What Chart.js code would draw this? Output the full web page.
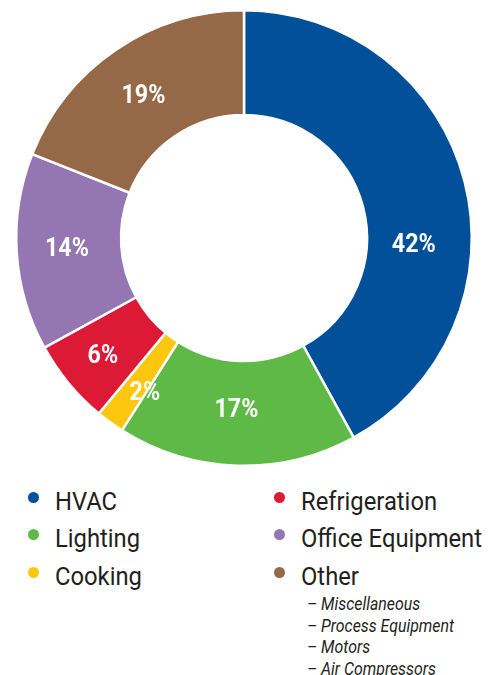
<!DOCTYPE html>
<html>
<head>
<meta charset="utf-8">
<script src="https://cdn.jsdelivr.net/npm/chart.js@4/dist/chart.umd.min.js"></script>
<style>
  html, body { margin: 0; padding: 0; background: #fff; }
  body { width: 488px; height: 675px; position: relative; overflow: hidden;
         font-family: "Roboto", "Liberation Sans", sans-serif; color: #231f20; }
  #wrap { position: absolute; left: 0; top: 0; width: 488px; height: 476px; }
  #legend { position: absolute; left: 0; top: 480px; width: 488px; height: 195px; }
  .item { position: absolute; font-size: 26.5px; line-height: 30px; white-space: nowrap; transform-origin: 0 0; }
  .dot { position: absolute; width: 11px; height: 11px; border-radius: 50%; }
  .sub { position: absolute; font-size: 18px; font-style: italic; line-height: 20px; white-space: nowrap; color: #231f20; transform-origin: 0 0; }
</style>
</head>
<body>
<div id="wrap"><canvas id="c" width="488" height="476"></canvas></div>
<div id="legend"></div>
<script>
const categories = ["HVAC", "Lighting", "Cooking", "Refrigeration", "Office Equipment", "Other"];
const values = [42, 17, 2, 6, 14, 19];
const colors = ["#024f9a", "#5eb947", "#fdc70f", "#dc1a36", "#9476b2", "#956948"];
const otherSubItems = ["Miscellaneous", "Process Equipment", "Motors", "Air Compressors"];

const labelPlugin = {
  id: 'sliceLabels',
  afterDatasetsDraw(chart, args, opts) {
    const ctx = chart.ctx;
    const meta = chart.getDatasetMeta(0);
    ctx.save();
    ctx.fillStyle = '#ffffff';
    ctx.font = 'bold 25px "Roboto", "Liberation Sans", sans-serif';
    ctx.textAlign = 'center';
    ctx.textBaseline = 'middle';
    const sx = 44 / ctx.measureText('42%').width;
    meta.data.forEach((arc, i) => {
      const p = arc.getProps(['startAngle', 'endAngle', 'innerRadius', 'outerRadius', 'x', 'y'], true);
      const a = (p.startAngle + p.endAngle) / 2;
      const r = (p.innerRadius + p.outerRadius) / 2;
      const off = (opts.offsets && opts.offsets[i]) || [0, 0];
      const x = p.x + Math.cos(a) * r + off[0];
      const y = p.y + Math.sin(a) * r + off[1];
      ctx.save();
      ctx.translate(x, y);
      ctx.scale(sx, 1);
      ctx.fillText(chart.data.datasets[0].data[i] + '%', 0, 1);
      ctx.restore();
    });
    ctx.restore();
  }
};

new Chart(document.getElementById('c'), {
  type: 'doughnut',
  data: {
    labels: categories,
    datasets: [{
      data: values,
      backgroundColor: colors,
      borderColor: '#ffffff',
      borderWidth: 2.5,
      hoverOffset: 0
    }]
  },
  options: {
    responsive: false,
    animation: false,
    cutout: '54%',
    layout: { padding: 9 },
    plugins: {
      legend: { display: false },
      tooltip: { enabled: false },
      sliceLabels: { offsets: [[0, 50], [-2, -4], [4, 13], [-6, 6], [-2, 0], [-2, 3]] }
    }
  },
  plugins: [labelPlugin]
});

// HTML legend in two columns
const legend = document.getElementById('legend');
const colX = [[33, 55], [279, 301]];
const rowY = [6, 43, 81];
const items = [];
categories.forEach((name, i) => {
  const col = Math.floor(i / 3), row = i % 3;
  const dot = document.createElement('div');
  dot.className = 'dot';
  dot.style.background = colors[i];
  dot.style.left = (colX[col][0] - 5.5) + 'px';
  dot.style.top = (rowY[row] + 6) + 'px';
  legend.appendChild(dot);
  const t = document.createElement('div');
  t.className = 'item';
  t.textContent = name;
  t.style.left = colX[col][1] + 'px';
  t.style.top = rowY[row] + 'px';
  legend.appendChild(t);
  items.push(t);
});
const subs = [];
otherSubItems.forEach((s, j) => {
  const d = document.createElement('div');
  d.className = 'sub';
  d.textContent = '\u2013 ' + s;
  d.style.left = '307px';
  d.style.top = (114 + j * 21.5) + 'px';
  legend.appendChild(d);
  subs.push(d);
});
// condense text horizontally to mimic the condensed typeface
const ref = items[4].getBoundingClientRect().width;
const s1 = 181 / ref;
items.forEach(t => t.style.transform = 'scaleX(' + s1 + ')');
const ref2 = subs[1].getBoundingClientRect().width;
const s2 = 147 / ref2;
subs.forEach(t => t.style.transform = 'scaleX(' + s2 + ')');
</script>
</body>
</html>
